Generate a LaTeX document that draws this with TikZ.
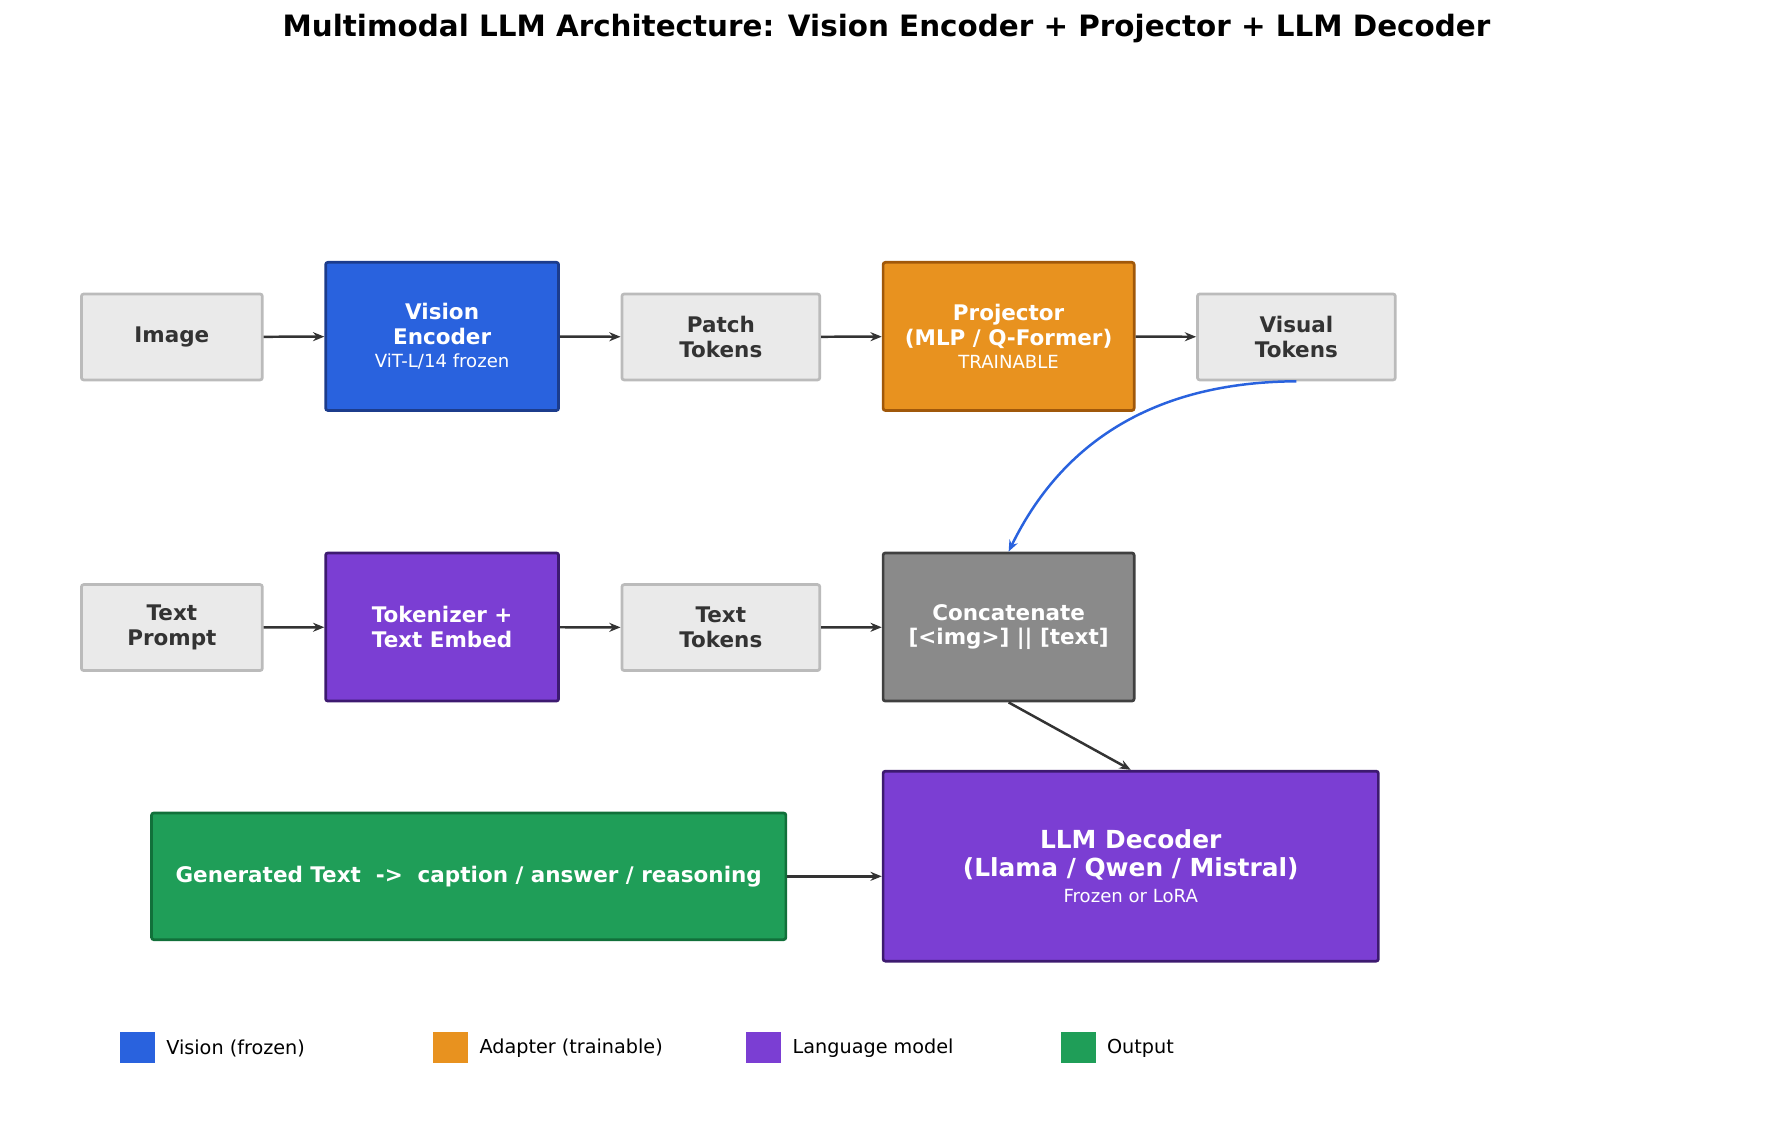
\documentclass[tikz,border=0pt]{standalone}
\usepackage{fontspec}
\setmainfont{DejaVu Sans}
\usetikzlibrary{arrows.meta}
\definecolor{cblue}{HTML}{2962DE}\definecolor{cbluedk}{HTML}{1C3C8C}
\definecolor{corange}{HTML}{E8921F}\definecolor{corangedk}{HTML}{A0580A}
\definecolor{cpurple}{HTML}{7B3ED3}\definecolor{cpurpledk}{HTML}{3D1A70}
\definecolor{cgreen}{HTML}{1F9E58}\definecolor{cgreendk}{HTML}{11703A}
\definecolor{cgrey}{HTML}{8A8A8A}\definecolor{cgreydk}{HTML}{404040}
\definecolor{clight}{HTML}{EAEAEA}\definecolor{clightdk}{HTML}{BBBBBB}
\definecolor{ctext}{HTML}{333333}
\begin{document}
\begin{tikzpicture}[x=0.5pt,y=-0.5pt,
 box/.style={draw,line width=1.2pt,rounded corners=1pt,align=center,inner sep=0pt,font=\fontsize{9.5}{11}\selectfont\bfseries},
 light/.style={box,fill=clight,draw=clightdk,text=ctext,minimum width=#1},
 light/.default=87.5pt,
 dark/.style={box,text=white},
 sub/.style={},
 arr/.style={-{Stealth[length=5pt,width=4pt]},line width=1.1pt,draw=ctext},
 leg/.style={anchor=west,font=\fontsize{8.5}{10}\selectfont,text=black}]
\useasboundingbox (0,0) rectangle (1568,991);
\node[font=\fontsize{13}{15}\selectfont\bfseries] (title) at (784,25) {Multimodal LLM Architecture: Vision Encoder + Projector + LLM Decoder};
\newcommand{\smalltxt}[1]{\\[-1pt]{\fontsize{8}{9}\selectfont\mdseries #1}}
\node[light=80pt,minimum height=38pt] (img) at (152,298) {Image};
\node[dark,fill=cblue,draw=cbluedk,minimum width=103pt,minimum height=65.5pt] (ve) at (391,297.5) {Vision\\Encoder\smalltxt{ViT-L/14 frozen}};
\node[light,minimum height=38pt] (patch) at (637.5,298) {Patch\\Tokens};
\node[dark,fill=corange,draw=corangedk,minimum width=111pt,minimum height=65.5pt] (proj) at (892,297.5) {Projector\\(MLP / Q-Former)\smalltxt{TRAINABLE}};
\node[light,minimum height=38pt] (vis) at (1146.5,298) {Visual\\Tokens};
\node[light=80pt,minimum height=38pt] (tp) at (152,555) {Text\\Prompt};
\node[dark,fill=cpurple,draw=cpurpledk,minimum width=103pt,minimum height=65.5pt] (tok) at (391,554.5) {Tokenizer +\\Text Embed};
\node[light,minimum height=38pt] (tt) at (637.5,555) {Text\\Tokens};
\node[dark,fill=cgrey,draw=cgreydk,minimum width=111pt,minimum height=65.5pt] (cat) at (892,554.5) {Concatenate\\{[<img>] || [text]}};
\node[dark,fill=cpurple,draw=cpurpledk,minimum width=219pt,minimum height=84pt,font=\fontsize{11}{12.5}\selectfont\bfseries] (llm) at (1000,766) {LLM Decoder\\(Llama / Qwen / Mistral)\smalltxt{Frozen or LoRA}};
\node[dark,fill=cgreen,draw=cgreendk,minimum width=280.5pt,minimum height=56pt] (gen) at (414.5,775) {Generated Text\ \ ->\ \ caption / answer / reasoning};
\draw[arr] (img) -- (ve);
\draw[arr] (ve) -- (patch);
\draw[arr] (patch) -- (proj);
\draw[arr] (proj) -- (vis);
\draw[arr] (tp) -- (tok);
\draw[arr] (tok) -- (tt);
\draw[arr] (tt) -- (cat);
\draw[arr] (cat.south) -- (llm.north);
\draw[arr] (gen.east) -- (gen.east -| llm.west);
\draw[arr,draw=cblue] (vis.south) .. controls (1000,338) and (930,410) .. (cat.north);
\fill[cblue] (106,913) rectangle (137,940); \node[leg] (l1) at (140,927) {Vision (frozen)};
\fill[corange] (383,913) rectangle (414,940); \node[leg] (l2) at (417,927) {Adapter (trainable)};
\fill[cpurple] (660,913) rectangle (691,940); \node[leg] (l3) at (694,927) {Language model};
\fill[cgreen] (938,913) rectangle (969,940); \node[leg] (l4) at (972,927) {Output};
\end{tikzpicture}
\end{document}
